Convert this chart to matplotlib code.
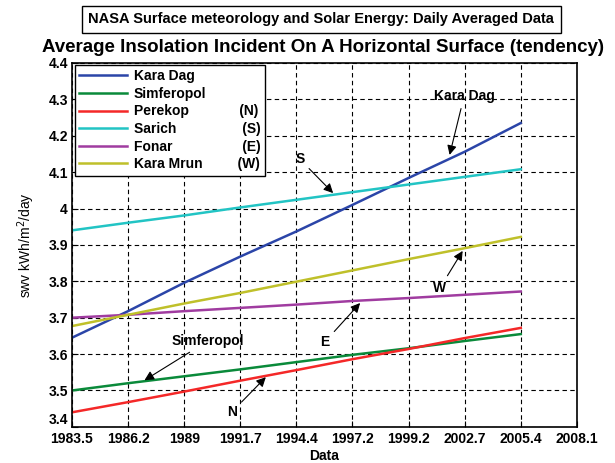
import matplotlib.pyplot as plt
import numpy as np

plt.rcParams['font.family'] = ['Liberation Sans', 'DejaVu Sans']

# tick labels (axis is evenly spaced, labels as printed)
tick_labels = ['1983.5', '1986.2', '1989', '1991.7', '1994.4',
               '1997.2', '1999.2', '2002.7', '2005.4', '2008.1']
pos = [0, 1, 2, 3, 4, 5, 6, 7, 8]

kara_dag = [3.645, 3.718, 3.796, 3.868, 3.937, 4.010, 4.084, 4.156, 4.235]
simferopol = [3.500, 3.520, 3.539, 3.558, 3.578, 3.598, 3.616, 3.636, 3.655]
perekop = [3.440, 3.468, 3.497, 3.527, 3.556, 3.586, 3.614, 3.644, 3.672]
sarich = [3.940, 3.961, 3.981, 4.003, 4.024, 4.045, 4.066, 4.087, 4.108]
fonar = [3.700, 3.708, 3.718, 3.727, 3.736, 3.746, 3.754, 3.763, 3.772]
kara_mrun = [3.677, 3.708, 3.739, 3.768, 3.799, 3.830, 3.861, 3.891, 3.922]

fig = plt.figure(figsize=(6.15, 4.63), dpi=100)
ax = fig.add_axes([0.117, 0.078, 0.821, 0.786])

ax.plot(pos, kara_dag, color='#2b45a8', lw=1.8, label='Kara Dag')
ax.plot(pos, simferopol, color='#0a8a3a', lw=1.8, label='Simferopol')
ax.plot(pos, perekop, color='#f42828', lw=1.8, label='Perekop             (N)')
ax.plot(pos, sarich, color='#22c4c4', lw=1.8, label='Sarich                 (S)')
ax.plot(pos, fonar, color='#a03ca0', lw=1.8, label='Fonar                  (E)')
ax.plot(pos, kara_mrun, color='#bfc02a', lw=1.8, label='Kara Mrun         (W)')

ax.set_xlim(0, 9)
ax.set_ylim(3.4, 4.4)
ax.set_xticks(range(10))
ax.set_xticklabels(tick_labels)
ax.set_yticks(np.arange(3.4, 4.41, 0.1))
ax.set_yticklabels(['3.4', '3.5', '3.6', '3.7', '3.8', '3.9', '4', '4.1', '4.2', '4.3', '4.4'])
ax.tick_params(direction='in', labelsize=10, length=4)
ax.tick_params(axis='x', pad=4)
ax.tick_params(axis='y', pad=3)
for t in ax.get_xticklabels() + ax.get_yticklabels():
    t.set_fontweight('bold')
ax.get_yticklabels()[0].set_va('bottom')
for s in ax.spines.values():
    s.set_linewidth(1.2)
ax.grid(True, color='k', linestyle=(0, (4, 3)), linewidth=0.8)

ax.set_xlabel('Data', fontsize=10, fontweight='bold', labelpad=2)
ax.set_ylabel('swv kWh/m$^2$/day', fontsize=10, labelpad=8)

leg = ax.legend(loc='upper left', bbox_to_anchor=(0.006, 0.995), borderaxespad=0,
                fancybox=False, framealpha=1, edgecolor='k',
                prop={'weight': 'bold', 'size': 10}, handlelength=3.4,
                handletextpad=0.5, labelspacing=0.26, borderpad=0.32)
leg.get_frame().set_linewidth(1.0)

arr = dict(arrowstyle='-|>', color='k', lw=0.8, mutation_scale=14)
kw = dict(fontsize=10, fontweight='bold', ha='center', va='center', arrowprops=arr)
ax.annotate('Kara Dag', xy=(6.72, 4.140), xytext=(6.99, 4.309), **kw)
ax.annotate('S', xy=(4.69, 4.037), xytext=(4.06, 4.136), **kw)
ax.annotate('W', xy=(6.99, 3.890), xytext=(6.56, 3.782), **kw)
ax.annotate('E', xy=(5.17, 3.746), xytext=(4.51, 3.634), **kw)
ax.annotate('Simferopol', xy=(1.25, 3.524), xytext=(2.42, 3.636), **kw)
ax.annotate('N', xy=(3.49, 3.542), xytext=(2.85, 3.441), **kw)

fig.text(0.522, 0.958, 'NASA Surface meteorology and Solar Energy: Daily Averaged Data',
         ha='center', va='center', fontsize=10.5, fontweight='bold',
         bbox=dict(boxstyle='square,pad=0.45', fc='white', ec='k', lw=1.0))
fig.text(0.525, 0.898, 'Average Insolation Incident On A Horizontal Surface (tendency)',
         ha='center', va='center', fontsize=13.5, fontweight='bold')

fig.savefig('out.png', dpi=100)
